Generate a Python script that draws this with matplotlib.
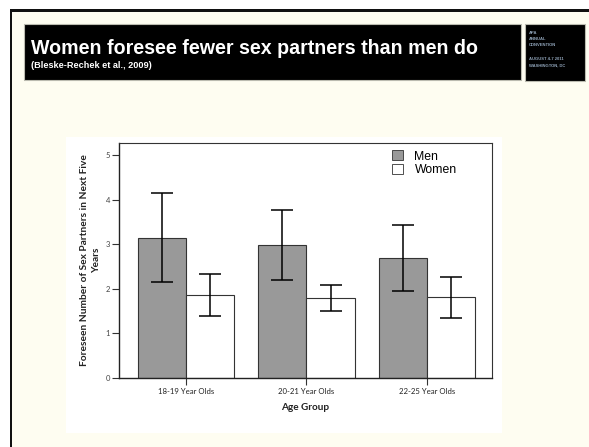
import matplotlib
matplotlib.use("Agg")
import matplotlib.pyplot as plt
from matplotlib.patches import Rectangle
import numpy as np

W, H = 589, 447

categories = ["18-19 Year Olds", "20-21 Year Olds", "22-25 Year Olds"]
men = [3.15, 2.98, 2.70]
men_lo = [2.15, 2.19, 1.94]
men_hi = [4.15, 3.76, 3.44]
women = [1.87, 1.79, 1.81]
women_lo = [1.40, 1.50, 1.35]
women_hi = [2.33, 2.09, 2.26]
yticks = [0, 1, 2, 3, 4, 5]

title = "Women foresee fewer sex partners than men do"
subtitle = "(Bleske-Rechek et al., 2009)"
logo_lines = ["APA", "ANNUAL", "CONVENTION", "", "AUGUST 4-7 2011", "WASHINGTON, DC"]

fig = plt.figure(figsize=(W / 100, H / 100), dpi=100)
fig.patch.set_facecolor("white")

def rect(x0, y0, x1, y1, **kw):
    r = Rectangle((x0 / W, 1 - y1 / H), (x1 - x0) / W, (y1 - y0) / H,
                  transform=fig.transFigure, figure=fig, zorder=-10, **kw)
    fig.patches.append(r)

cream = "#FEFDF1"
# slide background and border
rect(10, 9, W, H, facecolor="#111111", edgecolor="none")
rect(12, 12, W, H, facecolor=cream, edgecolor="none")
# title bar
rect(24, 24, 521, 80, facecolor="black", edgecolor="#bbbbb0", linewidth=0.8)
rect(525, 24, 585, 81, facecolor="black", edgecolor="#bbbbb0", linewidth=0.8)
# white chart panel
rect(66, 137, 502, 433, facecolor="white", edgecolor="none")

fig.text(31 / W, 1 - 54 / H, title, color="white", fontsize=14.1,
         fontweight="bold", family="Liberation Sans", va="baseline", ha="left")
fig.text(31 / W, 1 - 68.5 / H, subtitle, color="white", fontsize=6.6,
         fontweight="bold", family="Liberation Sans", va="baseline", ha="left")
ly = [33, 39, 45, 51, 59, 65]
for t, yy in zip(logo_lines, ly):
    if t:
        fig.text(529 / W, 1 - yy / H, t, color="#8fa3b8", fontsize=3.0,
                 fontweight="bold", family="Liberation Sans", va="center", ha="left")

ax = fig.add_axes([119 / W, 1 - 378 / H, (492 - 119) / W, (378 - 143) / H])
ax.set_zorder(5)
ax.set_facecolor("white")
x = np.arange(len(categories))
bw = 0.4
men_err = [np.array(men) - np.array(men_lo), np.array(men_hi) - np.array(men)]
wom_err = [np.array(women) - np.array(women_lo), np.array(women_hi) - np.array(women)]
ax.bar(x - bw / 2, men, bw, color="#999999", edgecolor="#333333", linewidth=0.8,
       yerr=men_err, error_kw=dict(ecolor="black", elinewidth=1.1, capsize=8, capthick=1.1),
       label="Men", zorder=2)
ax.bar(x + bw / 2, women, bw, color="white", edgecolor="#333333", linewidth=0.8,
       yerr=wom_err, error_kw=dict(ecolor="black", elinewidth=1.1, capsize=8, capthick=1.1),
       label="Women", zorder=2)

ax.set_xlim(-0.556, 2.54)
ax.set_ylim(0, 5.27)
ax.set_yticks(yticks)
ax.set_yticklabels([str(v) for v in yticks], fontsize=5.5, color="#444444", family="Lato")
ax.set_xticks(x)
ax.set_xticklabels(categories, fontsize=5.6, color="#222222", family="Lato")
ax.tick_params(axis="y", length=5, width=0.8, color="#333333", pad=1.5)
ax.tick_params(axis="x", length=5, width=0.8, color="#333333", pad=2)
for s in ["left", "bottom"]:
    ax.spines[s].set_color("#222222")
    ax.spines[s].set_linewidth(1.0)
for s in ["top", "right"]:
    ax.spines[s].set_color("#333333")
    ax.spines[s].set_linewidth(0.8)

ax.set_xlabel("Age Group", fontsize=7.2, fontweight="bold", family="Lato", labelpad=6, color="#222222")
ax.set_ylabel("Foreseen Number of Sex Partners in Next Five\nYears", fontsize=7.3,
              fontweight="bold", family="Lato", labelpad=3, color="#222222", linespacing=1.45)

leg = ax.legend(loc="upper left", bbox_to_anchor=(0.72, 0.99), frameon=False,
                prop=dict(family="Liberation Sans", size=8.8), handlelength=0.9,
                handleheight=0.9, handletextpad=0.9, labelspacing=0.1, borderaxespad=0)
for h in leg.legend_handles:
    h.set_linewidth(0.6)

fig.savefig("out.png", dpi=100, facecolor=fig.get_facecolor())
